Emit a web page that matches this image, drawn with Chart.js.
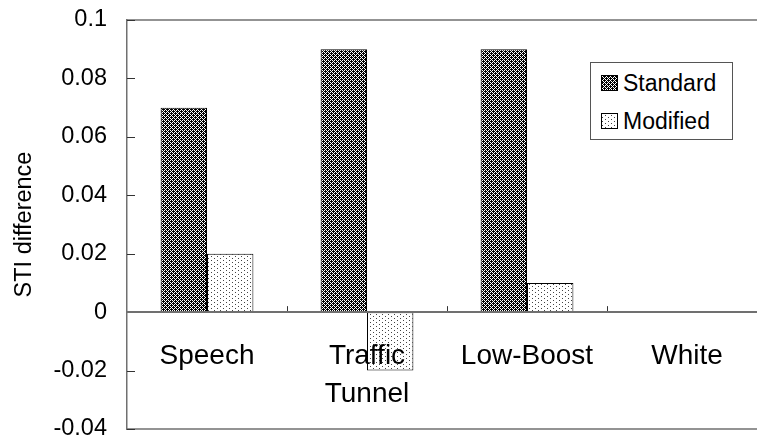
<!DOCTYPE html>
<html lang="en">
<head>
<meta charset="UTF-8">
<title>STI difference</title>
<style>
    html, body {
        margin: 0;
        padding: 0;
        background: #ffffff;
        overflow: hidden;
        width: 757px;
        height: 441px;
    }
    #wrap {
        position: relative;
        width: 757px;
        height: 441px;
    }
    #legend {
        position: absolute;
        left: 590px;
        top: 62px;
        width: 141px;
        height: 76px;
        border: 1px solid #555555;
        background: #ffffff;
        font-family: "Liberation Sans", Arial, sans-serif;
        font-size: 23px;
        color: #000000;
    }
    .item {
        position: absolute;
        left: 10px;
        height: 28px;
        line-height: 28px;
        white-space: nowrap;
    }
    .item canvas {
        vertical-align: middle;
        margin-right: 5px;
        position: relative;
        top: -2px;
    }
</style>
<script src="https://cdn.jsdelivr.net/npm/chart.js"></script>
</head>
<body>
<div id="wrap">
    <canvas id="barChart" width="780" height="441"></canvas>
    <div id="legend"></div>
</div>

<script>
var categories = ['Speech', ['Traffic', 'Tunnel'], 'Low-Boost', 'White'];
var seriesNames = ['Standard', 'Modified'];
var standardValues = [0.07, 0.09, 0.09, 0];
var modifiedValues = [0.02, -0.02, 0.01, 0];
var yTicks = [-0.04, -0.02, 0, 0.02, 0.04, 0.06, 0.08, 0.1];

var axisGray = '#707070';
var fontName = '"Liberation Sans", Arial, sans-serif';

// little tile canvases used as fill patterns
function hatchTile() {
    var c = document.createElement('canvas');
    c.width = 4; c.height = 4;
    var g = c.getContext('2d');
    g.fillStyle = '#000000';
    g.fillRect(0, 0, 4, 4);
    g.fillStyle = '#ffffff';
    for (var i = 0; i < 4; i++) {
        g.fillRect(i, i, 1, 1);
    }
    g.fillRect(2, 0, 1, 1);
    g.fillRect(0, 2, 1, 1);
    return c;
}

function dotTile() {
    var c = document.createElement('canvas');
    c.width = 6; c.height = 4;
    var g = c.getContext('2d');
    g.fillStyle = '#ffffff';
    g.fillRect(0, 0, 6, 4);
    g.fillStyle = '#444444';
    g.fillRect(1, 0, 1, 1);
    g.fillRect(4, 2, 1, 1);
    return c;
}

var ctx = document.getElementById('barChart').getContext('2d');
var tiles = [hatchTile(), dotTile()];
var patterns = tiles.map(function(t) { return ctx.createPattern(t, 'repeat'); });

function noBorderAtZero(c) {
    return c.raw === 0 ? 0 : 1;
}

// frame lines, inward tick marks on the value axis and category dividers
var framePlugin = {
    id: 'frame',
    afterDatasetsDraw: function(chart) {
        var a = chart.chartArea;
        var x = chart.scales.x;
        var y = chart.scales.y;
        var c = chart.ctx;
        c.save();
        c.strokeStyle = axisGray;
        c.lineWidth = 1.5;
        c.beginPath();
        c.moveTo(a.left, a.top); c.lineTo(a.right, a.top);
        c.moveTo(a.left, a.bottom); c.lineTo(a.right, a.bottom);
        c.stroke();

        c.strokeStyle = '#333333';
        c.lineWidth = 1;
        c.beginPath();
        yTicks.forEach(function(v) {
            var py = Math.round(y.getPixelForValue(v)) + 0.5;
            c.moveTo(a.left, py); c.lineTo(a.left + 8, py);
        });
        var zero = y.getPixelForValue(0);
        var half = (x.getPixelForValue(1) - x.getPixelForValue(0)) / 2;
        for (var i = 0; i < categories.length - 1; i++) {
            var px = Math.round(x.getPixelForValue(i) + half) + 0.5;
            c.moveTo(px, zero); c.lineTo(px, zero - 6);
        }
        c.stroke();
        c.restore();
    }
};

var chart = new Chart(ctx, {
    type: 'bar',
    data: {
        labels: categories,
        datasets: [{
            label: seriesNames[0],
            data: standardValues,
            backgroundColor: patterns[0],
            borderColor: '#000000',
            borderWidth: noBorderAtZero,
            borderSkipped: false
        }, {
            label: seriesNames[1],
            data: modifiedValues,
            backgroundColor: patterns[1],
            borderColor: '#000000',
            borderWidth: noBorderAtZero,
            borderSkipped: false
        }]
    },
    options: {
        responsive: false,
        animation: false,
        layout: {
            padding: { left: 0, top: 20, right: 13, bottom: 12 }
        },
        plugins: {
            legend: { display: false },
            tooltip: { enabled: false }
        },
        datasets: {
            bar: {
                categoryPercentage: 0.58,
                barPercentage: 1.0
            }
        },
        scales: {
            x: {
                position: { y: 0 },
                grid: { display: false, drawTicks: false },
                border: { display: true, color: axisGray, width: 2, z: 1 },
                ticks: {
                    z: 1,
                    autoSkip: false,
                    maxRotation: 0,
                    padding: 26,
                    color: '#000000',
                    font: { family: fontName, size: 28, lineHeight: 1.33 }
                },
                afterFit: function(s) {
                    s.paddingLeft = 0;
                    s.paddingRight = 0;
                }
            },
            y: {
                min: -0.04,
                max: 0.1,
                afterBuildTicks: function(s) {
                    s.ticks = yTicks.map(function(v) { return { value: v }; });
                },
                grid: { display: false, drawTicks: false },
                border: { display: true, color: axisGray, width: 1.5 },
                ticks: {
                    padding: 20,
                    color: '#000000',
                    font: { family: fontName, size: 23.5 },
                    callback: function(v) { return String(Math.round(v * 100) / 100); }
                },
                title: {
                    display: true,
                    text: 'STI difference',
                    color: '#000000',
                    font: { family: fontName, size: 23.5 },
                    padding: { top: 10, bottom: 0 }
                },
                afterFit: function(s) {
                    s.width = 127;
                    s.paddingTop = 0;
                    s.paddingBottom = 0;
                }
            }
        }
    },
    plugins: [framePlugin]
});

// legend built from the series names, swatches reuse the bar tiles
var legend = document.getElementById('legend');
seriesNames.forEach(function(name, i) {
    var item = document.createElement('div');
    item.className = 'item';
    item.style.top = (6 + i * 38) + 'px';
    var sw = document.createElement('canvas');
    sw.width = 17; sw.height = 16;
    var g = sw.getContext('2d');
    g.fillStyle = g.createPattern(tiles[i], 'repeat');
    g.fillRect(0, 0, 17, 16);
    g.strokeStyle = '#000000';
    g.lineWidth = 1;
    g.strokeRect(0.5, 0.5, 16, 15);
    item.appendChild(sw);
    item.appendChild(document.createTextNode(name));
    legend.appendChild(item);
});
</script>
</body>
</html>
